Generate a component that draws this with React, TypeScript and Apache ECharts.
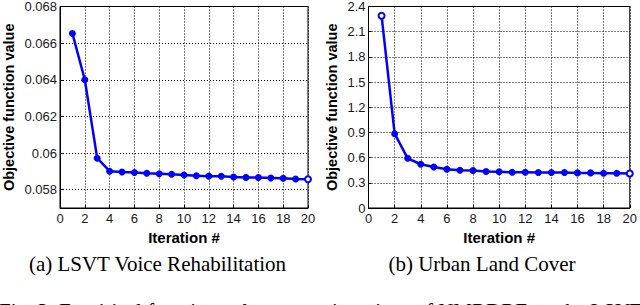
import React, { useEffect, useRef } from "react";
import * as echarts from "echarts";

const iterations = [1, 2, 3, 4, 5, 6, 7, 8, 9, 10, 11, 12, 13, 14, 15, 16, 17, 18, 19, 20];
const lsvtValues = [0.06653, 0.0640, 0.05972, 0.05901, 0.05897, 0.05894, 0.0589, 0.05887, 0.05884, 0.0588, 0.05876, 0.05874, 0.05873, 0.05869, 0.05867, 0.05866, 0.05864, 0.05862, 0.05858, 0.05857];
const urbanValues = [2.29, 0.885, 0.592, 0.521, 0.489, 0.462, 0.45, 0.446, 0.434, 0.432, 0.426, 0.426, 0.422, 0.422, 0.422, 0.418, 0.418, 0.414, 0.414, 0.41];
const lsvtYTicks = [0.058, 0.06, 0.062, 0.064, 0.066, 0.068];
const urbanYTicks = [0, 0.3, 0.6, 0.9, 1.2, 1.5, 1.8, 2.1, 2.4];
const captionA = "(a) LSVT Voice Rehabilitation";
const captionB = "(b) Urban Land Cover";
const figCaption = "Fig. 3: Empirical function value versus iterations of NMRDRE on the LSVT Voice Rehabilitation";
const yName = "Objective function value";
const xName = "Iteration #";

const BLUE = "#0000ff";
const fmt = (v: number) => String(parseFloat(Number(v).toFixed(4)));

function makeSeriesData(vals: number[], hollow: number[]) {
  return iterations.map((x, i) => {
    const item: any = { value: [x, vals[i]] };
    if (hollow.includes(i)) {
      item.itemStyle = { color: "#ffffff", borderColor: BLUE, borderWidth: 2 };
      item.symbolSize = 6;
    }
    return item;
  });
}

export default function App() {
  const ref = useRef<HTMLDivElement>(null);
  useEffect(() => {
    if (!ref.current) return;
    const chart = echarts.init(ref.current, undefined, { renderer: "svg" });
    const labelStyle = { color: "#1a1a1a", fontFamily: "Liberation Sans", fontSize: 13 };
    const nameStyle = { color: "#000", fontFamily: "Liberation Sans", fontSize: 14.5, fontWeight: "bold" as const };
    const splitLine = { show: true, lineStyle: { color: "#000", type: [1, 2] as any, width: 1 } };
    const axisLine = { show: true, onZero: false, lineStyle: { color: "#000", width: 1 } };
    const axisTick = { show: true, inside: true, length: 3, lineStyle: { color: "#000" } };
    const xAxisBase = (gridIndex: number) => ({
      type: "value" as const,
      gridIndex,
      min: 0,
      max: 20,
      interval: 2,
      name: xName,
      nameLocation: "middle" as const,
      nameGap: 18,
      nameTextStyle: { ...nameStyle, fontSize: 15 },
      axisLine,
      axisTick,
      splitLine,
      axisLabel: { ...labelStyle, margin: 4, formatter: (v: number) => fmt(v) },
    });
    chart.setOption({
      animation: false,
      backgroundColor: "#ffffff",
      grid: [
        { left: 59.5, top: 5, width: 248.5, height: 203, show: true, borderColor: "#000", borderWidth: 1, backgroundColor: "transparent" },
        { left: 368.5, top: 5, width: 263, height: 203, show: true, borderColor: "#000", borderWidth: 1, backgroundColor: "transparent" },
      ],
      xAxis: [xAxisBase(0), xAxisBase(1)],
      yAxis: [
        {
          type: "value",
          gridIndex: 0,
          min: 0.057,
          max: 0.068,
          name: yName,
          nameLocation: "middle",
          nameGap: 44,
          nameTextStyle: nameStyle,
          axisLine,
          axisTick: { ...axisTick, customValues: lsvtYTicks },
          splitLine,
          axisLabel: { ...labelStyle, margin: 3, customValues: lsvtYTicks, formatter: (v: number) => fmt(v) },
        },
        {
          type: "value",
          gridIndex: 1,
          min: 0,
          max: 2.4,
          interval: 0.3,
          name: yName,
          nameLocation: "middle",
          nameGap: 29,
          nameTextStyle: nameStyle,
          axisLine,
          axisTick: { ...axisTick, customValues: urbanYTicks },
          splitLine,
          axisLabel: { ...labelStyle, margin: 3, customValues: urbanYTicks, formatter: (v: number) => fmt(v) },
        },
      ],
      series: [
        {
          type: "line",
          xAxisIndex: 0,
          yAxisIndex: 0,
          data: makeSeriesData(lsvtValues, [19]),
          symbol: "circle",
          symbolSize: 7,
          lineStyle: { color: BLUE, width: 2.5 },
          itemStyle: { color: BLUE },
        },
        {
          type: "line",
          xAxisIndex: 1,
          yAxisIndex: 1,
          data: makeSeriesData(urbanValues, [0, 19]),
          symbol: "circle",
          symbolSize: 7,
          lineStyle: { color: BLUE, width: 2.5 },
          itemStyle: { color: BLUE },
        },
      ],
      graphic: [
        {
          type: "text",
          x: 157.5,
          y: 264,
          style: { text: captionA, fill: "#000", font: "21px 'Liberation Serif'", textAlign: "center", textVerticalAlign: "middle" },
        },
        {
          type: "text",
          x: 482,
          y: 264,
          style: { text: captionB, fill: "#000", font: "21px 'Liberation Serif'", textAlign: "center", textVerticalAlign: "middle" },
        },
        {
          type: "text",
          x: -1,
          y: 300,
          style: { text: figCaption, fill: "#000", font: "21px 'Liberation Serif'", textAlign: "left", textVerticalAlign: "top" },
        },
      ],
    });
    return () => chart.dispose();
  }, []);
  return <div ref={ref} style={{ width: 640, height: 305, position: "absolute", left: 0, top: 0 }} />;
}
